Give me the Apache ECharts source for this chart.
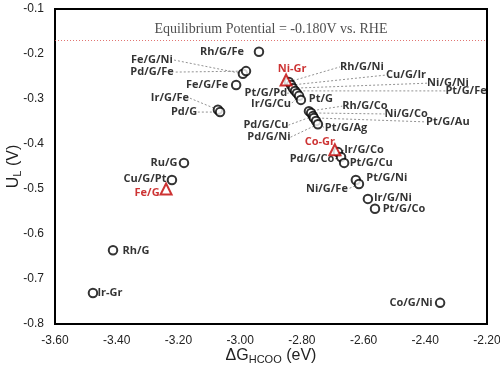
<!DOCTYPE html>
<html><head><meta charset="utf-8">
<script src="https://cdn.jsdelivr.net/npm/echarts@6/dist/echarts.min.js"></script>
<style>html,body{margin:0;padding:0;background:#fff}#c{width:500px;height:367px}</style>
</head><body><div id="c"></div>
<script>
// ---- data ----
const circleNames = ['Rh/G/Fe','Fe/G/Ni','Pd/G/Fe','Fe/G/Fe','Ir/G/Fe','Pd/G','Rh/G/Ni','Cu/G/Ir','Ni/G/Ni','Pt/G/Fe','Pt/G/Pd','Ir/G/Cu','Pt/G','Rh/G/Co','Ni/G/Co','Pd/G/Cu','Pt/G/Au','Pt/G/Ag','Pd/G/Ni','Ir/G/Co','Pd/G/Co','Pt/G/Cu','Pt/G/Ni','Ni/G/Fe','Ir/G/Ni','Pt/G/Co','Ru/G','Cu/G/Pt','Rh/G','Ir-Gr','Co/G/Ni'];
const circleDG = [-2.939,-2.991,-2.981,-3.013,-3.072,-3.065,-2.842,-2.835,-2.829,-2.822,-2.816,-2.809,-2.803,-2.777,-2.770,-2.764,-2.761,-2.754,-2.748,-2.683,-2.673,-2.663,-2.625,-2.615,-2.586,-2.563,-3.182,-3.221,-3.412,-3.477,-2.352];
const circleUL = [-0.195,-0.244,-0.238,-0.269,-0.324,-0.329,-0.262,-0.269,-0.276,-0.282,-0.287,-0.293,-0.302,-0.327,-0.331,-0.338,-0.342,-0.349,-0.356,-0.418,-0.429,-0.442,-0.480,-0.489,-0.522,-0.544,-0.442,-0.480,-0.636,-0.731,-0.753];
const triNames = ['Ni-Gr','Co-Gr','Fe/G'];
const triDG = [-2.851,-2.693,-3.240];
const triUL = [-0.258,-0.413,-0.500];
const equilibriumUL = -0.167;
const equilibriumText = 'Equilibrium Potential = -0.180V vs. RHE';
const xTicks = {min:-3.6, max:-2.2, interval:0.2};
const yTicks = {min:-0.8, max:-0.1, interval:0.1};

// ---- label placement (pixel offsets of label centre from marker; leader flag) ----
const labelPlace = {
 'Rh/G/Fe':[-37,0,0],'Fe/G/Ni':[-91,-14,1],'Pd/G/Fe':[-94,1,1],'Fe/G/Fe':[-29,0,0],
 'Ir/G/Fe':[-48,-12,1],'Pd/G':[-36,0,1],'Ni-Gr':[6,-11,0],
 'Rh/G/Ni':[73,-15,1],'Cu/G/Ir':[115,-10,1],'Ni/G/Ni':[155,-5,1],'Pt/G/Fe':[171,0,1],
 'Pt/G/Pd':[-31,0,1],'Ir/G/Cu':[-28,8,1],'Pt/G':[20,-1,0],
 'Rh/G/Co':[56,-5,1],'Ni/G/Co':[95,1,1],'Pt/G/Au':[134,4,1],'Pd/G/Cu':[-47,9,1],
 'Pt/G/Ag':[30,7,1],'Pd/G/Ni':[-49,13,1],'Co-Gr':[-15,-8,0],'Ir/G/Co':[26,-2,1],
 'Pd/G/Co':[-29,2,1],'Pt/G/Cu':[27,0,0],'Pt/G/Ni':[31,-2,0],'Ni/G/Fe':[-32,5,1],
 'Ir/G/Ni':[25,-1,0],'Pt/G/Co':[29,0,0],'Ru/G':[-20,0,0],'Cu/G/Pt':[-27,-1,0],
 'Fe/G':[-19,4,0],'Rh/G':[23,1,0],'Ir-Gr':[17,0,0],'Co/G/Ni':[-29,0,0]
};

function mk(names, xs, ys){
  return names.map((n,i)=>({name:n, value:[xs[i], ys[i]], labelLine:{show: !!labelPlace[n][2]}}));
}
const layoutFn = p => { const o = labelPlace[p.text] || [0,0]; return {dx:o[0], dy:o[1]}; };
const lblFont = {show:true, formatter:'{b}', position:'inside', fontFamily:'Open Sans', fontWeight:'bold', fontSize:11};
const leader = {show:true, lineStyle:{color:'#777', width:0.8, type:[2,2]}};

const chart = echarts.init(document.getElementById('c'));
chart.setOption({
  animation:false,
  grid:{left:55, right:13, top:9, bottom:43, containLabel:false, outerBoundsMode:'none', show:true, borderColor:'#000', borderWidth:2},
  xAxis:{type:'value', min:xTicks.min, max:xTicks.max, interval:xTicks.interval,
    axisLine:{show:true, lineStyle:{color:'#000', width:2}}, axisTick:{show:false}, splitLine:{show:false},
    axisLabel:{formatter:v=>v.toFixed(2), fontFamily:'Liberation Sans', fontSize:12, color:'#222', margin:11},
    name:'{a|ΔG}{s|HCOO}{a| (eV)}', nameLocation:'middle', nameGap:22, nameMoveOverlap:false,
    nameTextStyle:{rich:{a:{fontFamily:'Liberation Sans', fontSize:16, color:'#222'}, s:{fontFamily:'Liberation Sans', fontSize:11, color:'#222', padding:[8,0,0,0]}}}},
  yAxis:{type:'value', min:yTicks.min, max:yTicks.max, interval:yTicks.interval,
    axisLine:{show:true, lineStyle:{color:'#000', width:2}}, axisTick:{show:false}, splitLine:{show:false},
    axisLabel:{formatter:v=>v.toFixed(1), fontFamily:'Liberation Sans', fontSize:12, color:'#222', margin:11},
    name:'{a|U}{s|L}{a| (V)}', nameLocation:'middle', nameGap:32, nameMoveOverlap:false,
    nameTextStyle:{rich:{a:{fontFamily:'Liberation Sans', fontSize:16, color:'#222'}, s:{fontFamily:'Liberation Sans', fontSize:11, color:'#222', padding:[8,0,0,0]}}}},
  series:[
    {type:'scatter', symbol:'circle', symbolSize:8.5, data:mk(circleNames, circleDG, circleUL),
     itemStyle:{color:'#fff', borderColor:'#000', borderWidth:2},
     label:Object.assign({}, lblFont, {color:'#000'}), labelLine:leader, labelLayout:layoutFn,
     markLine:{silent:true, symbol:'none', data:[{yAxis:equilibriumUL}],
       lineStyle:{color:'#d9534f', width:1, type:[1,2], opacity:0.8},
       label:{show:true, position:'insideMiddleTop', formatter:equilibriumText, fontFamily:'Liberation Serif', fontSize:14, color:'#222', distance:4}}},
    {type:'scatter', symbol:'triangle', symbolSize:11, data:mk(triNames, triDG, triUL),
     itemStyle:{color:'#fff', borderColor:'#c00000', borderWidth:2},
     label:Object.assign({}, lblFont, {color:'#c00000'}), labelLine:leader, labelLayout:layoutFn}
  ]
});
</script></body></html>
